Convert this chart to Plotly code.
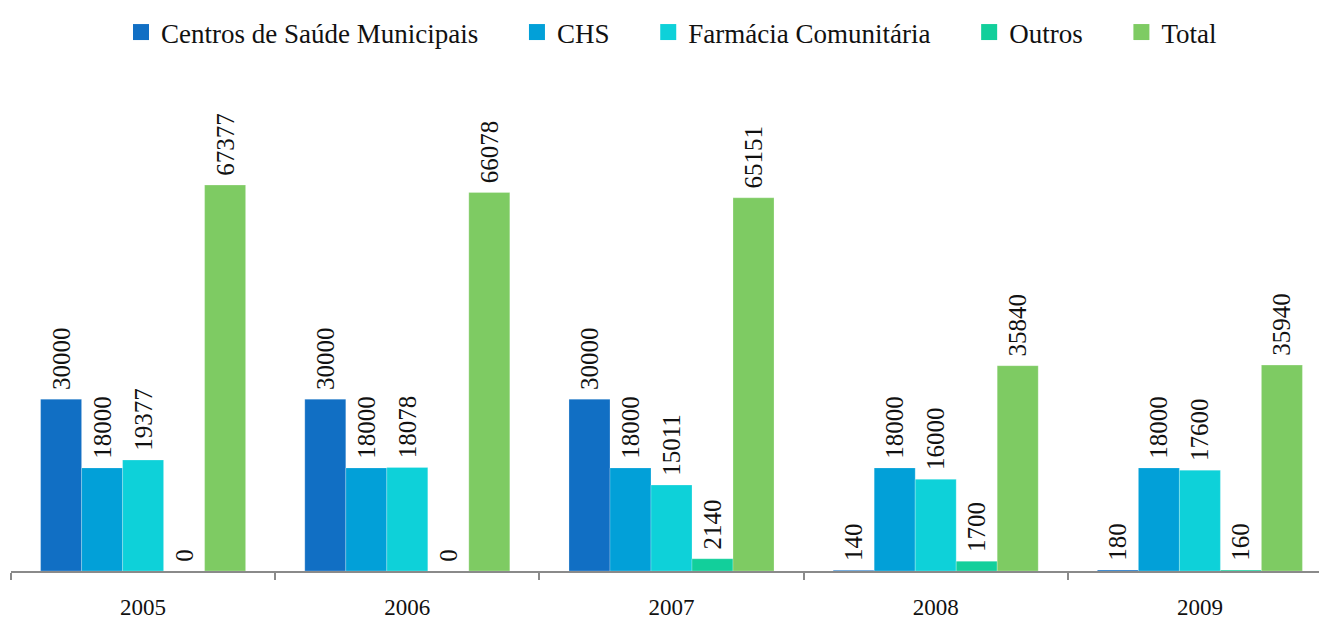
import plotly.graph_objects as go

years = ["2005", "2006", "2007", "2008", "2009"]
series_names = ["Centros de Saúde Municipais", "CHS", "Farmácia Comunitária", "Outros", "Total"]
centros = [30000, 30000, 30000, 140, 180]
chs = [18000, 18000, 18000, 18000, 18000]
farmacia = [19377, 18078, 15011, 16000, 17600]
outros = [0, 0, 2140, 1700, 160]
total = [67377, 66078, 65151, 35840, 35940]
colors = ["#116FC4", "#02A0D8", "#0ED1D9", "#12CF9B", "#7ECB63"]

FONT = "Liberation Serif, Times New Roman, serif"
NB = "\u00a0"

fig = go.Figure()
for i, (name, vals, col) in enumerate(zip(series_names, [centros, chs, farmacia, outros, total], colors)):
    fig.add_trace(go.Bar(
        name=name,
        x=years,
        y=vals,
        marker=dict(color=col, line=dict(color="rgba(255,255,255,0.4)", width=0.6)),
        text=[NB + str(v) for v in vals],
        textposition="outside",
        textangle=-90,
        textfont=dict(family=FONT, size=25, color="#111111"),
        cliponaxis=False,
        showlegend=False,
    ))
    # legend entry with a bigger square swatch; padding keeps the wide gaps
    pad = NB * 5 if i < len(series_names) - 1 else ""
    fig.add_trace(go.Scatter(
        name=name + pad,
        x=[None],
        y=[None],
        mode="markers",
        marker=dict(symbol="square", size=16, color=col),
        showlegend=True,
    ))

fig.update_layout(
    width=1327,
    height=619,
    barmode="group",
    bargap=0.224,
    bargroupgap=0,
    plot_bgcolor="white",
    paper_bgcolor="white",
    margin=dict(l=3, r=3, t=0, b=56),
    font=dict(family=FONT, size=20, color="#111111"),
    legend=dict(
        orientation="h",
        x=0.5,
        xanchor="center",
        y=0.962,
        yanchor="middle",
        font=dict(family=FONT, size=27, color="#111111"),
        itemsizing="trace",
        itemwidth=30,
        traceorder="normal",
        bgcolor="rgba(0,0,0,0)",
    ),
    uniformtext=dict(minsize=25, mode="show"),
)
fig.update_xaxes(
    showline=True,
    linecolor="#8a8a8a",
    linewidth=2,
    ticks="outside",
    tickson="boundaries",
    ticklen=7,
    tickcolor="#8a8a8a",
    tickwidth=2,
    ticklabelstandoff=14,
    tickfont=dict(family=FONT, size=23, color="#111111"),
    showgrid=False,
)
fig.update_yaxes(visible=False, range=[0, 97760], showgrid=False)

fig.write_html("out.html")
